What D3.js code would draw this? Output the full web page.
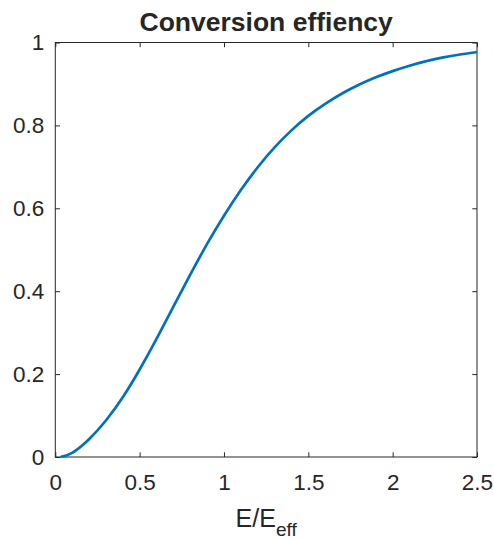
<!DOCTYPE html>
<html>
<head>
<meta charset="utf-8">
<script src="https://cdn.jsdelivr.net/npm/d3@7"></script>
<style>
  body { margin: 0; background: #fff; }
  svg { display: block; }
  text { font-family: "Liberation Sans", Arial, Helvetica, sans-serif; fill: #262626; }
</style>
</head>
<body>
<div id="chart"></div>
<script>
// values
const ratio = [0.03, 0.1, 0.2, 0.3, 0.4, 0.5, 0.6, 0.7, 0.8, 0.9, 1.0, 1.1, 1.2, 1.3,
               1.4, 1.5, 1.6, 1.7, 1.8, 1.9, 2.0, 2.1, 2.2, 2.3, 2.4, 2.5];
const efficiency = [0.0, 0.010, 0.043, 0.088, 0.144, 0.211, 0.285, 0.363, 0.440, 0.514, 0.582,
                    0.644, 0.699, 0.747, 0.788, 0.823, 0.852, 0.877, 0.898, 0.916, 0.931,
                    0.944, 0.955, 0.964, 0.971, 0.977];
const xTicks = [0, 0.5, 1, 1.5, 2, 2.5];
const yTicks = [0, 0.2, 0.4, 0.6, 0.8, 1];

const W = 494, H = 540;
const margin = {top: 42.5, right: 17, bottom: 83, left: 55.3};
const w = W - margin.left - margin.right;
const h = H - margin.top - margin.bottom;

const svg = d3.select("#chart").append("svg")
    .attr("width", W)
    .attr("height", H);

const g = svg.append("g")
    .attr("transform", `translate(${margin.left},${margin.top})`);

const x = d3.scaleLinear().domain([0, 2.5]).range([0, w]);
const y = d3.scaleLinear().domain([0, 1]).range([h, 0]);

const tickLen = 4.7;
const fmt = d => d3.format("")(d);

function styleAxis(sel) {
    sel.select(".domain").remove();
    sel.selectAll(".tick line").attr("stroke", "#262626").attr("stroke-width", 1);
    sel.selectAll(".tick text").style("font-size", "22.5px").attr("fill", "#262626");
}

// bottom + top
g.append("g")
    .attr("transform", `translate(0,${h})`)
    .call(d3.axisBottom(x).tickValues(xTicks).tickFormat(fmt).tickSizeInner(-tickLen).tickSizeOuter(0).tickPadding(17.5))
    .call(styleAxis);

g.append("g")
    .call(d3.axisTop(x).tickValues(xTicks).tickFormat("").tickSizeInner(-tickLen).tickSizeOuter(0))
    .call(styleAxis);

// left + right
g.append("g")
    .call(d3.axisLeft(y).tickValues(yTicks).tickFormat(fmt).tickSizeInner(-tickLen).tickSizeOuter(0).tickPadding(11))
    .call(styleAxis);

g.append("g")
    .attr("transform", `translate(${w},0)`)
    .call(d3.axisRight(y).tickValues(yTicks).tickFormat("").tickSizeInner(-tickLen).tickSizeOuter(0))
    .call(styleAxis);

// box
g.append("rect")
    .attr("x", 0).attr("y", 0)
    .attr("width", w).attr("height", h)
    .attr("fill", "none")
    .attr("stroke", "#262626")
    .attr("stroke-width", 1);

// curve
const line = d3.line()
    .x((d, i) => x(ratio[i]))
    .y(d => y(d))
    .curve(d3.curveNatural);

g.append("path")
    .datum(efficiency)
    .attr("d", line)
    .attr("fill", "none")
    .attr("stroke", "#0072BD")
    .attr("stroke-width", 2.7);

// title
svg.append("text")
    .attr("x", margin.left + w / 2)
    .attr("y", 31)
    .attr("text-anchor", "middle")
    .style("font-size", "26.5px")
    .style("font-weight", "bold")
    .attr("fill", "#000")
    .text("Conversion effiency");

// x label
const xl = svg.append("text")
    .attr("x", margin.left + w / 2)
    .attr("y", 526.5)
    .attr("text-anchor", "middle")
    .style("font-size", "25px");
xl.append("tspan").text("E/E");
xl.append("tspan").attr("dy", 9.5).style("font-size", "19px").text("eff");
</script>
</body>
</html>
